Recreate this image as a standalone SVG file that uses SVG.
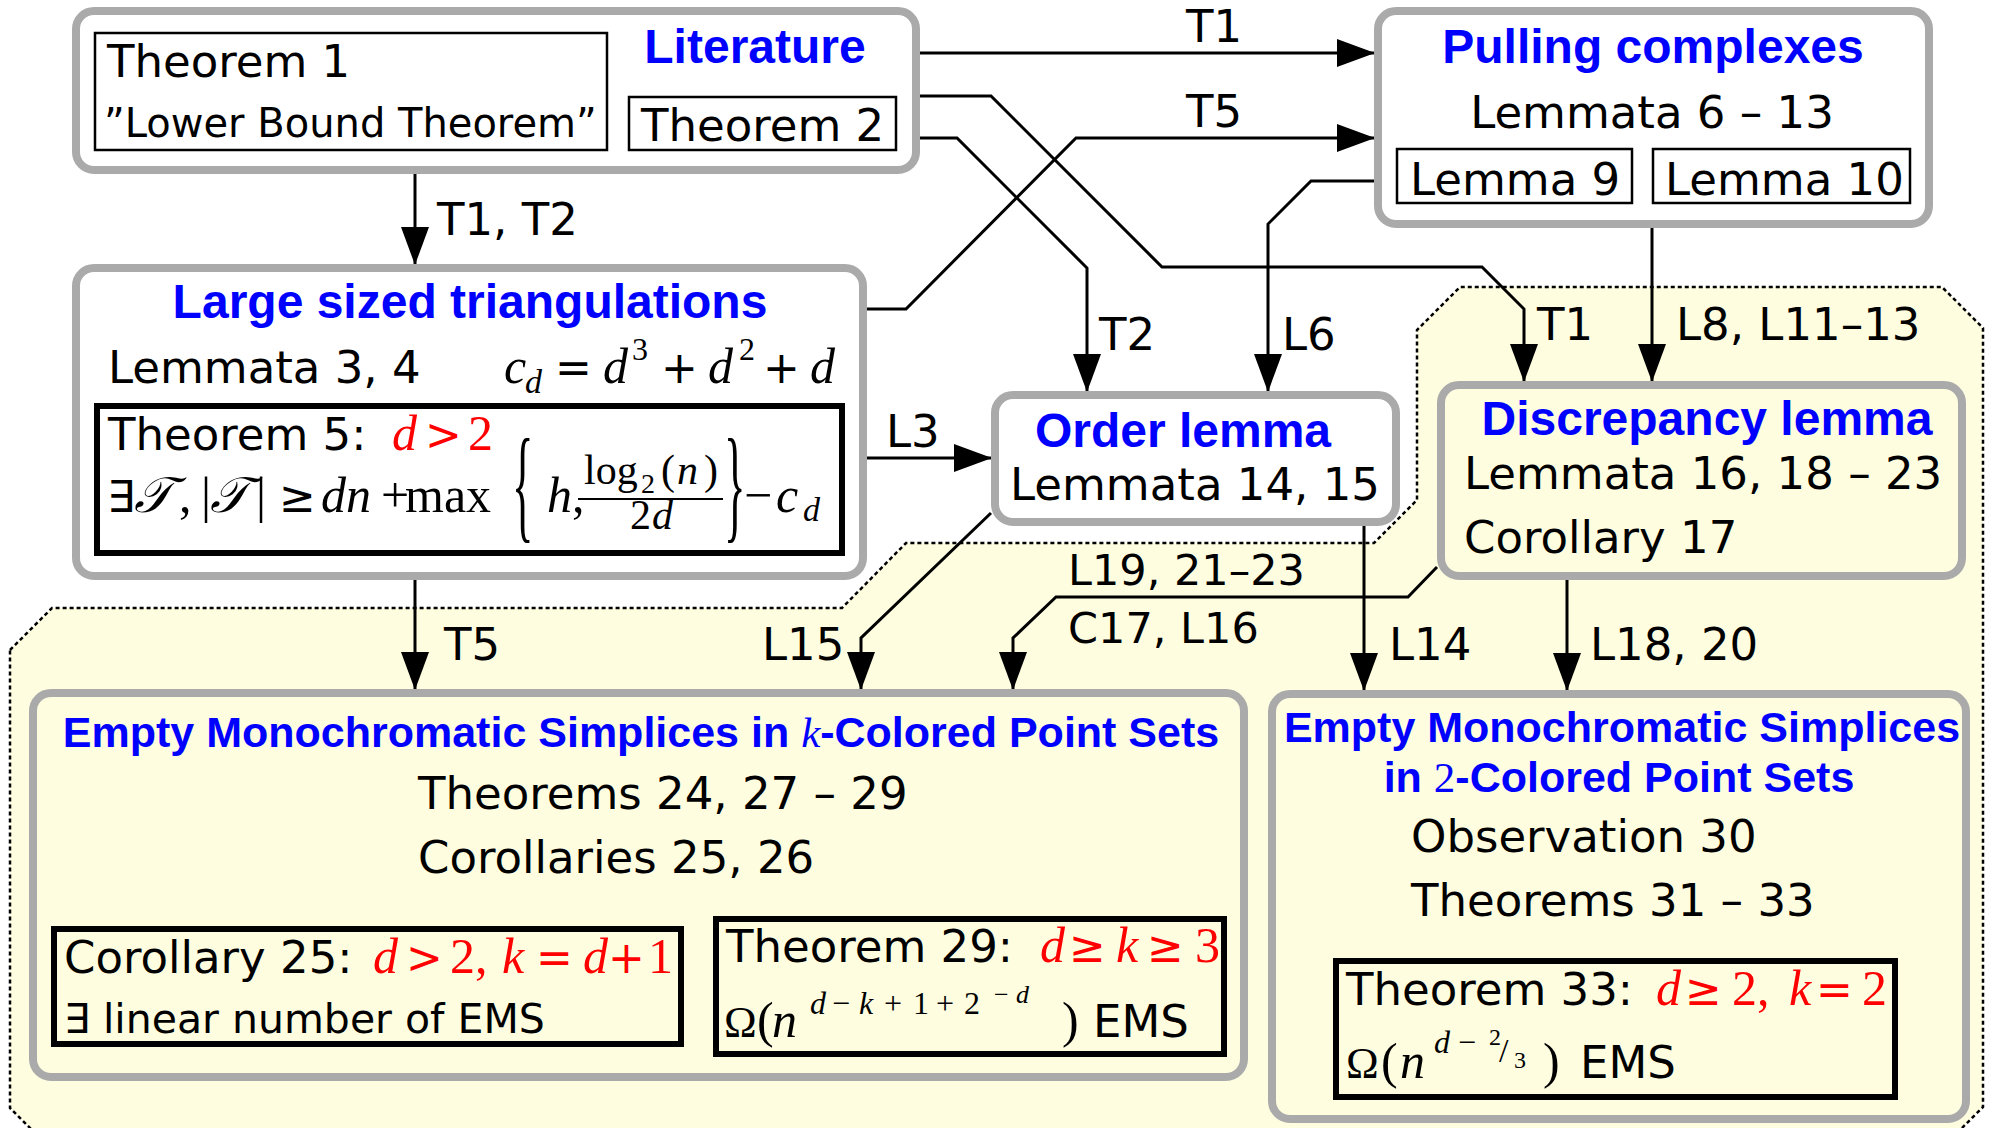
<svg xmlns="http://www.w3.org/2000/svg" width="1990" height="1128" viewBox="0 0 1990 1128">
<defs>
<style>
.box{fill:none;stroke:#aaaaaa;stroke-width:8}
.ib{fill:none;stroke:#000;stroke-width:2.5}
.tb{fill:none;stroke:#000;stroke-width:6}
.h{font-family:"Liberation Sans",Arial,sans-serif;font-weight:bold;font-size:48px;fill:#0000ff}
.hs{font-size:43px}
.t{font-family:"DejaVu Sans",sans-serif;font-size:45px;fill:#000}
.lb{font-family:"DejaVu Sans",sans-serif;font-size:45px;fill:#000}
.m{font-family:"Liberation Serif","Times New Roman",serif;font-size:50px;fill:#000}
.i{font-style:italic}
.op{font-family:"DejaVu Sans",sans-serif;font-size:44px}
.red{fill:#ff0000}
.cn{fill:none;stroke:#000;stroke-width:3;marker-end:url(#ah)}
.reg{fill:#fefde0;stroke:#000;stroke-width:2.5;stroke-dasharray:4 3}
</style>
<marker id="ah" markerUnits="userSpaceOnUse" markerWidth="38" markerHeight="28" viewBox="0 0 38 28" refX="37" refY="14" orient="auto">
<path d="M0,0 L38,14 L0,28 z" fill="#000"/>
</marker>
</defs>
<rect width="1990" height="1128" fill="#ffffff"/>
<path id="region" class="reg" d="M10,650 L52,608 H842 L906,543 H1374 L1417,500 V330 L1460,287 H1942 L1983,328 V1107 L1940,1150 H52 L10,1108 Z"/>

<g id="connectors">
<path class="cn" d="M920,53 H1374"/>
<path class="cn" d="M867,309 H906 L1076,138 H1374"/>
<path class="cn" d="M920,96 H991 L1162,267 H1482 L1524,309 V381"/>
<path class="cn" d="M920,138 H957 L1087,268 V391"/>
<path class="cn" d="M1374,181 H1311 L1268,224 V391"/>
<path class="cn" d="M1652,228 V381"/>
<path class="cn" d="M867,458 H991"/>
<path class="cn" d="M415,174 V264"/>
<path class="cn" d="M415,580 V689"/>
<path class="cn" d="M991,513 L861,638 V689"/>
<path class="cn" d="M1437,567 L1408,597 H1056 L1013,638 V689"/>
<path class="cn" d="M1364,526 V690"/>
<path class="cn" d="M1567,580 V690"/>
<text class="lb" x="1186" y="42">T1</text>
<text class="lb" x="1186" y="127">T5</text>
<text class="lb" x="437" y="235">T1, T2</text>
<text class="lb" x="1099" y="350">T2</text>
<text class="lb" x="1282" y="350">L6</text>
<text class="lb" x="1537" y="340">T1</text>
<text class="lb" x="1676" y="340">L8, L11–13</text>
<text class="lb" x="886" y="447">L3</text>
<text class="lb" x="444" y="660">T5</text>
<text class="lb" x="762" y="660">L15</text>
<text class="lb" x="1068" y="585" style="font-size:43px">L19, 21–23</text>
<text class="lb" x="1068" y="643" style="font-size:43px">C17, L16</text>
<text class="lb" x="1389" y="660">L14</text>
<text class="lb" x="1590" y="660">L18, 20</text>
</g>

<g id="literature">
<rect class="box" x="76" y="11" width="840" height="159" rx="18"/>
<rect class="ib" x="95" y="33" width="512" height="117"/>
<text class="t" x="107" y="77">Theorem 1</text>
<text class="t" x="104" y="137" style="font-size:40px">”Lower Bound Theorem”</text>
<rect class="ib" x="629" y="97" width="267" height="53"/>
<text class="t" x="641" y="141">Theorem 2</text>
<text class="h" x="755" y="63" text-anchor="middle">Literature</text>
</g>

<g id="pulling">
<rect class="box" x="1378" y="11" width="551" height="213" rx="18"/>
<text class="h" x="1653" y="63" text-anchor="middle">Pulling complexes</text>
<text class="t" x="1652" y="128" text-anchor="middle">Lemmata 6 – 13</text>
<rect class="ib" x="1397" y="149" width="235" height="54"/>
<text class="t" x="1410" y="195">Lemma 9</text>
<rect class="ib" x="1653" y="149" width="257" height="54"/>
<text class="t" x="1665" y="195">Lemma 10</text>
</g>

<g id="large">
<rect class="box" x="76" y="268" width="787" height="308" rx="18"/>
<text class="h" x="470" y="318" text-anchor="middle">Large sized triangulations</text>
<text class="t" x="108" y="383">Lemmata 3, 4</text>
<text class="m" y="383"><tspan class="i" x="504">c</tspan><tspan class="i" x="525" y="393" font-size="34">d</tspan><tspan class="op" x="555" y="383">=</tspan><tspan class="i" x="603">d</tspan><tspan x="632" y="360" font-size="32">3</tspan><tspan class="op" x="661" y="383">+</tspan><tspan class="i" x="708">d</tspan><tspan x="739" y="360" font-size="32">2</tspan><tspan class="op" x="763" y="383">+</tspan><tspan class="i" x="810">d</tspan></text>
<rect class="tb" x="97" y="406" width="745" height="147"/>
<text class="t" x="108" y="450">Theorem 5: </text>
<text class="m red" y="450"><tspan class="i" x="392">d</tspan><tspan class="op" x="425">&gt;</tspan><tspan x="468">2</tspan></text>
<text class="m" y="512"><tspan class="op" x="107">∃</tspan><tspan class="i" x="134">𝒯</tspan><tspan x="179">,</tspan><tspan x="201">|</tspan><tspan class="i" x="210">𝒯</tspan><tspan x="256">|</tspan><tspan class="op" x="279">≥</tspan><tspan class="i" x="321">dn</tspan><tspan x="381">+</tspan><tspan x="405">max</tspan><tspan class="i" x="547">h</tspan><tspan x="572">,</tspan><tspan x="744">−</tspan><tspan class="i" x="776">c</tspan><tspan class="i" x="803" y="521" font-size="34">d</tspan></text>
<text class="m" y="484" style="font-size:42px"><tspan x="584">log</tspan><tspan x="641" y="493" font-size="28">2</tspan><tspan x="661" y="484">(</tspan><tspan class="i" x="677">n</tspan><tspan x="704">)</tspan></text>
<line x1="578" y1="499" x2="723" y2="499" stroke="#000" stroke-width="2"/>
<text class="m" y="529" style="font-size:42px"><tspan x="630">2</tspan><tspan class="i" x="652">d</tspan></text>
<text class="m" style="font-size:128px" transform="translate(512,526) scale(0.35,1)">{</text>
<text class="m" style="font-size:128px" transform="translate(724,526) scale(0.35,1)">}</text>
</g>

<g id="order">
<rect class="box" x="995" y="395" width="401" height="127" rx="18"/>
<text class="h" x="1183" y="447" text-anchor="middle">Order lemma</text>
<text class="t" x="1195" y="500" text-anchor="middle">Lemmata 14, 15</text>
</g>

<g id="discrepancy">
<rect class="box" x="1441" y="385" width="521" height="191" rx="18"/>
<text class="h" x="1707" y="435" text-anchor="middle">Discrepancy lemma</text>
<text class="t" x="1464" y="489">Lemmata 16, 18 – 23</text>
<text class="t" x="1464" y="553">Corollary 17</text>
</g>

<g id="kcolored">
<rect class="box" x="33" y="693" width="1211" height="384" rx="18"/>
<text class="h hs" x="641" y="747" text-anchor="middle">Empty Monochromatic Simplices in <tspan font-family="Liberation Serif" font-style="italic" font-weight="normal">k</tspan>-Colored Point Sets</text>
<text class="t" x="418" y="809">Theorems 24, 27 – 29</text>
<text class="t" x="418" y="873">Corollaries 25, 26</text>
<rect class="tb" x="54" y="929" width="627" height="115"/>
<text class="t" x="64" y="973">Corollary 25: </text>
<text class="m red" y="973"><tspan class="i" x="373">d</tspan><tspan class="op" x="406">&gt;</tspan><tspan x="450">2,</tspan><tspan class="i" x="502">k</tspan><tspan class="op" x="536">=</tspan><tspan class="i" x="583">d</tspan><tspan class="op" x="608">+</tspan><tspan x="648">1</tspan></text>
<text class="t" x="64" y="1033" style="font-size:41px">∃ linear number of EMS</text>
<rect class="tb" x="716" y="919" width="508" height="135"/>
<text class="t" x="726" y="962">Theorem 29: </text>
<text class="m red" y="962"><tspan class="i" x="1040">d</tspan><tspan class="op" x="1069">≥</tspan><tspan class="i" x="1116">k</tspan><tspan class="op" x="1147">≥</tspan><tspan x="1195">3</tspan></text>
<text class="m" y="1037"><tspan x="724" font-size="44">Ω</tspan><tspan x="757">(</tspan><tspan class="i" x="772">n</tspan><tspan class="i" x="810" y="1014" font-size="32">d</tspan><tspan x="832" font-size="32">−</tspan><tspan class="i" x="859" font-size="32">k</tspan><tspan x="884" font-size="32">+</tspan><tspan x="913" font-size="32">1</tspan><tspan x="936" font-size="32">+</tspan><tspan x="964" font-size="32">2</tspan><tspan x="994" y="1003" font-size="26">−</tspan><tspan class="i" x="1016" font-size="26">d</tspan><tspan x="1062" y="1037">)</tspan></text>
<text class="t" x="1093" y="1037">EMS</text>
</g>

<g id="twocolored">
<rect class="box" x="1272" y="694" width="694" height="425" rx="18"/>
<text class="h hs" x="1622" y="742" text-anchor="middle">Empty Monochromatic Simplices</text>
<text class="h hs" x="1619" y="792" text-anchor="middle">in <tspan font-family="Liberation Serif" font-weight="normal">2</tspan>-Colored Point Sets</text>
<text class="t" x="1411" y="852">Observation 30</text>
<text class="t" x="1411" y="916">Theorems 31 – 33</text>
<rect class="tb" x="1336" y="961" width="559" height="136"/>
<text class="t" x="1346" y="1005">Theorem 33: </text>
<text class="m red" y="1005"><tspan class="i" x="1656">d</tspan><tspan class="op" x="1685">≥</tspan><tspan x="1732">2,</tspan><tspan class="i" x="1789">k</tspan><tspan class="op" x="1816">=</tspan><tspan x="1862">2</tspan></text>
<text class="m" y="1078"><tspan x="1346" font-size="44">Ω</tspan><tspan x="1381">(</tspan><tspan class="i" x="1400">n</tspan><tspan class="i" x="1434" y="1053" font-size="32">d</tspan><tspan x="1458" font-size="32">−</tspan><tspan x="1489" y="1045" font-size="24">2</tspan><tspan x="1499" y="1062" font-size="34">/</tspan><tspan x="1514" y="1068" font-size="24">3</tspan><tspan x="1543" y="1078">)</tspan></text>
<text class="t" x="1580" y="1078">EMS</text>
</g>
</svg>
